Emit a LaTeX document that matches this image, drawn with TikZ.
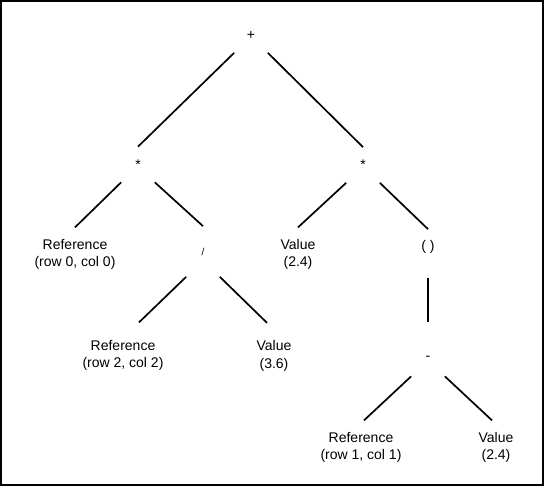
\documentclass[tikz,border=0pt]{standalone}
\usepackage{fontspec}
\setmainfont{Liberation Sans}
\usepackage{tikz}
\usetikzlibrary{positioning}
\tikzstyle{op}=[inner sep=0pt,minimum width=32pt,minimum height=34pt]
\tikzstyle{leaf}=[align=center,inner xsep=2pt,inner ysep=11pt]
\newcommand{\newOp}[4]{\node[op,#3](#1)[#4]{#2};}
\newcommand{\newLeaf}[4]{\node[leaf,#3](#1)[#4]{#2};}
\newcommand{\newBranch}[3]{\draw[#3] (#1) -- (#2);}
\begin{document}
\begin{tikzpicture}[x=1pt,y=-1pt,on grid,
    font=\fontsize{14}{17.5}\selectfont,
    line width=1.7pt  %branches
    ]
    \useasboundingbox (0,0) rectangle (544,486);
    \draw[line width=2pt] (1,1) rectangle (543,485);
    \newOp{plus}{+}{}{at={(251,35)}}
    \newOp{m1}{*}{below left=129.5pt and 113pt of plus}{}
    \newOp{m2}{*}{below right=130pt and 112pt of plus}{}
    \newLeaf{r00}{Reference\\(row 0, col 0)}{below left=90pt and 63pt of m1}{}
    \newOp{dv}{/}{below right=87pt and 65pt of m1}{minimum height=49pt,font=\fontsize{10}{12}\selectfont}
    \newLeaf{v24a}{Value\\(2.4)}{below left=89.5pt and 65pt of m2}{}
    \newOp{par}{( )}{below right=82pt and 65pt of m2}{}
    \newLeaf{r22}{Reference\\(row 2, col 2)}{below left=104pt and 80pt of dv}{inner ysep=17pt}
    \newLeaf{v36}{Value\\(3.6)}{below right=104.5pt and 71pt of dv}{inner ysep=17pt}
    \newOp{minus}{-}{below=111.5pt of par}{}
    \newLeaf{r11}{Reference\\(row 1, col 1)}{below left=89pt and 67pt of minus}{}
    \newLeaf{v24b}{Value\\(2.4)}{below right=89pt and 68pt of minus}{}
    \newBranch{plus.south west}{m1.north}{}
    \newBranch{plus.south east}{m2.north}{}
    \newBranch{m1.south west}{r00.north}{}
    \newBranch{m1.south east}{dv.north}{}
    \newBranch{m2.south west}{v24a.north}{}
    \newBranch{m2.south east}{par.north}{}
    \newBranch{dv.south west}{[xshift=16pt]r22.north}{}
    \newBranch{dv.south east}{[xshift=-7pt]v36.north}{}
    \newBranch{par.south}{minus.north}{shorten <=13pt,shorten >=18.5pt}
    \newBranch{minus.south west}{[xshift=3pt]r11.north}{}
    \newBranch{minus.south east}{[xshift=-4pt]v24b.north}{}
\end{tikzpicture}
\end{document}
